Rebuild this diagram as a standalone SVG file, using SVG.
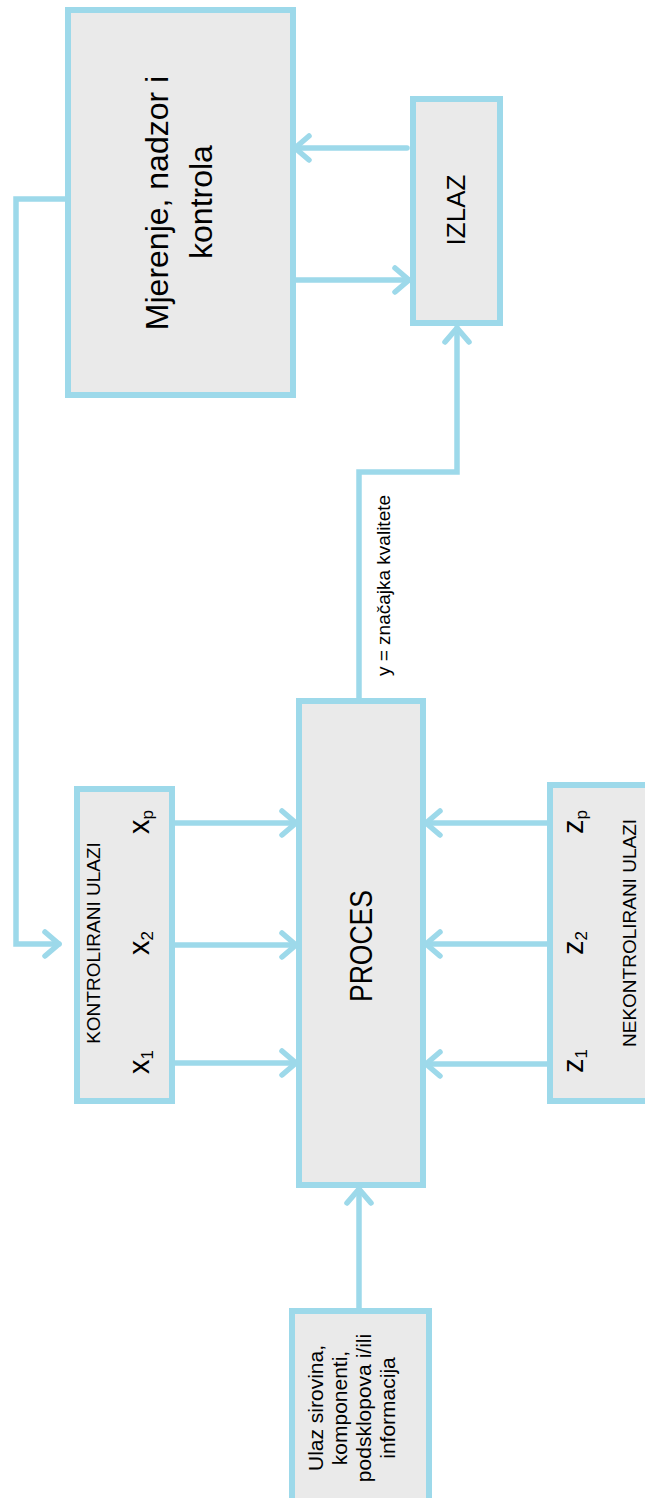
<svg xmlns="http://www.w3.org/2000/svg" width="645" height="1498" viewBox="0 0 645 1498">
  <style>
    .box { fill: #EAEAEA; stroke: #9DD9EA; stroke-width: 6; }
    .con { fill: none; stroke: #9DD9EA; stroke-width: 5.5; stroke-linecap: round; stroke-linejoin: miter; }
    .arr { marker-end: url(#chev); }
    text { font-family: "Liberation Sans", Arial, sans-serif; fill: #000; }
    .mid { text-anchor: middle; }
  </style>
  <defs>
    <marker id="chev" markerUnits="userSpaceOnUse" viewBox="-20 -18 26 36" refX="0" refY="0" markerWidth="26" markerHeight="36" orient="auto" overflow="visible">
      <path d="M -14 -12 L 0 0 L -14 12" fill="none" stroke="#9DD9EA" stroke-width="5.5" stroke-linecap="round" stroke-linejoin="round"/>
    </marker>
  </defs>

  <g id="connectors">
    <line class="con arr" x1="407" y1="148" x2="295" y2="148"/>
    <line class="con arr" x1="296" y1="280" x2="409" y2="280"/>
    <polyline class="con arr" points="65,199 16,199 16,944 59,944"/>
    <polyline class="con arr" points="359,698 359,472 457,472 457,328"/>
    <line class="con arr" x1="359" y1="1308" x2="359" y2="1189"/>
    <line class="con arr" x1="175" y1="823" x2="296" y2="823"/>
    <line class="con arr" x1="175" y1="945" x2="296" y2="945"/>
    <line class="con arr" x1="175" y1="1063" x2="296" y2="1063"/>
    <line class="con arr" x1="547" y1="823" x2="426" y2="823"/>
    <line class="con arr" x1="547" y1="944" x2="426" y2="944"/>
    <line class="con arr" x1="547" y1="1064" x2="426" y2="1064"/>
  </g>

  <g id="mjerenje">
    <rect class="box" x="68" y="10" width="225" height="385"/>
    <text class="mid" font-size="32" transform="translate(168,203) rotate(-90)">Mjerenje, nadzor i</text>
    <text class="mid" font-size="32" transform="translate(212,202) rotate(-90)">kontrola</text>
  </g>

  <g id="izlaz">
    <rect class="box" x="413" y="99" width="87" height="224"/>
    <text class="mid" font-size="26" transform="translate(465,210) rotate(-90)">IZLAZ</text>
  </g>

  <g id="proces">
    <rect class="box" x="299" y="701" width="124" height="484"/>
    <text class="mid" font-size="32" textLength="112" lengthAdjust="spacingAndGlyphs" transform="translate(372,946) rotate(-90)">PROCES</text>
  </g>

  <g id="kontrolirani">
    <rect class="box" x="77" y="789" width="95" height="312"/>
    <text class="mid" font-size="19" transform="translate(100,943) rotate(-90)">KONTROLIRANI ULAZI</text>
    <text font-size="29" transform="translate(149,1074) rotate(-90)">x<tspan font-size="17" dy="4">1</tspan></text>
    <text font-size="29" transform="translate(149,955) rotate(-90)">x<tspan font-size="17" dy="4">2</tspan></text>
    <text font-size="29" transform="translate(149,834) rotate(-90)">x<tspan font-size="17" dy="4">p</tspan></text>
  </g>

  <g id="nekontrolirani">
    <rect class="box" x="550" y="785" width="110" height="316"/>
    <text class="mid" font-size="19" transform="translate(636,933) rotate(-90)">NEKONTROLIRANI ULAZI</text>
    <text font-size="29" transform="translate(583,1073) rotate(-90)">z<tspan font-size="17" dy="4">1</tspan></text>
    <text font-size="29" transform="translate(583,955) rotate(-90)">z<tspan font-size="17" dy="4">2</tspan></text>
    <text font-size="29" transform="translate(583,834) rotate(-90)">z<tspan font-size="17" dy="4">p</tspan></text>
  </g>

  <g id="ulaz">
    <rect class="box" x="292" y="1311" width="137" height="200"/>
    <text class="mid" font-size="21" transform="translate(323,1408) rotate(-90)">Ulaz sirovina,</text>
    <text class="mid" font-size="21" transform="translate(347,1408) rotate(-90)">komponenti,</text>
    <text class="mid" font-size="21" transform="translate(371,1408) rotate(-90)">podsklopova i/ili</text>
    <text class="mid" font-size="21" transform="translate(395,1408) rotate(-90)">informacija</text>
  </g>

  <g id="label-y">
    <text class="mid" font-size="19" transform="translate(390,585.5) rotate(-90)">y = značajka kvalitete</text>
  </g>
</svg>
